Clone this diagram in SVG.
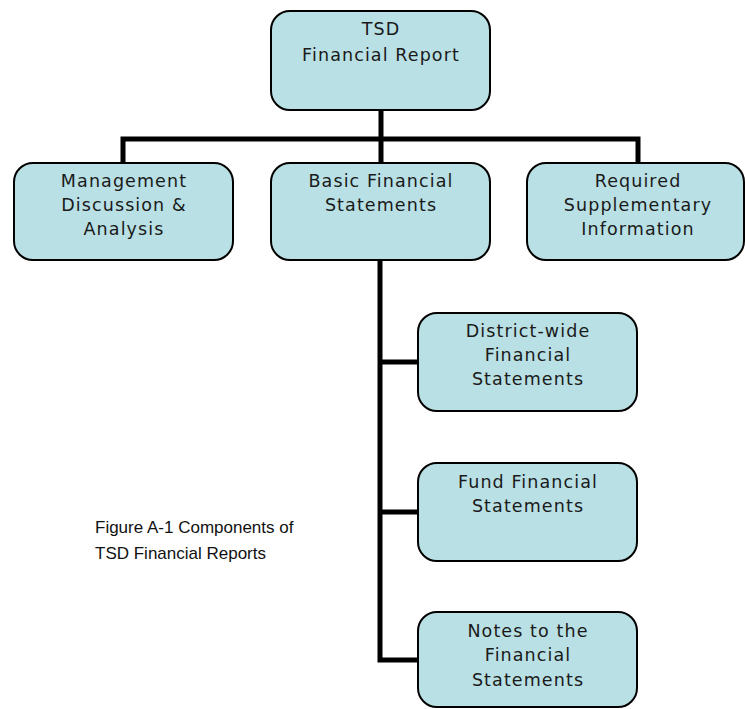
<svg xmlns="http://www.w3.org/2000/svg" width="745" height="709" viewBox="0 0 745 709">
<style>
.box{fill:#B9E0E4;stroke:#000;stroke-width:2}
.lbl{font-family:"DejaVu Sans",Verdana,sans-serif;font-size:17.5px;letter-spacing:1.1px;fill:#1a1a1a;text-anchor:middle}
.con{fill:none;stroke:#000;stroke-width:5}
.cap{font-family:"Liberation Sans",Arial,sans-serif;font-size:17px;fill:#111}
</style>
<rect width="745" height="709" fill="#fff"/>
<g id="connectors">
<path class="con" d="M381 110 V162"/>
<path class="con" d="M123 162 V139 H638 V162"/>
<path class="con" d="M380 260 V660 H418"/>
<path class="con" d="M380 362 H418"/>
<path class="con" d="M380 512 H418"/>
</g>
<g id="tsd">
<rect class="box" x="271" y="11" width="219" height="99" rx="19"/>
<text class="lbl" x="381" y="35">TSD</text>
<text class="lbl" x="381" y="61">Financial Report</text>
</g>
<g id="mda">
<rect class="box" x="14" y="163" width="219" height="97" rx="19"/>
<text class="lbl" x="124" y="187">Management</text>
<text class="lbl" x="124" y="211">Discussion &amp;</text>
<text class="lbl" x="124" y="235">Analysis</text>
</g>
<g id="bfs">
<rect class="box" x="271" y="163" width="219" height="97" rx="19"/>
<text class="lbl" x="381" y="187">Basic Financial</text>
<text class="lbl" x="381" y="211">Statements</text>
</g>
<g id="rsi">
<rect class="box" x="527" y="163" width="217" height="97" rx="19"/>
<text class="lbl" x="638" y="187">Required</text>
<text class="lbl" x="638" y="211">Supplementary</text>
<text class="lbl" x="638" y="235">Information</text>
</g>
<g id="district">
<rect class="box" x="418" y="313" width="219" height="98" rx="19"/>
<text class="lbl" x="528" y="337">District-wide</text>
<text class="lbl" x="528" y="361">Financial</text>
<text class="lbl" x="528" y="385">Statements</text>
</g>
<g id="fund">
<rect class="box" x="418" y="463" width="219" height="98" rx="19"/>
<text class="lbl" x="528" y="488">Fund Financial</text>
<text class="lbl" x="528" y="512">Statements</text>
</g>
<g id="notes">
<rect class="box" x="418" y="612" width="219" height="95" rx="19"/>
<text class="lbl" x="528" y="637">Notes to the</text>
<text class="lbl" x="528" y="661">Financial</text>
<text class="lbl" x="528" y="686">Statements</text>
</g>
<g id="caption">
<text class="cap" x="95" y="533">Figure A-1 Components of</text>
<text class="cap" x="95" y="559">TSD Financial Reports</text>
</g>
</svg>
